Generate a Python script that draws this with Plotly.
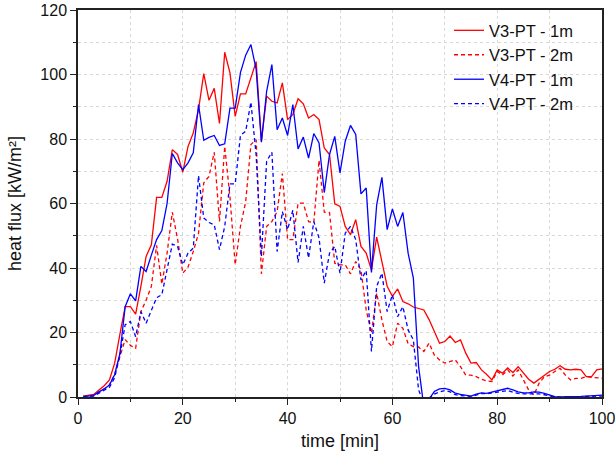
import plotly.graph_objects as go

time_min = list(range(1, 101))

v3_1m = [0.3, 0.5, 0.8, 2.2, 3.5, 5.3, 10.5, 19.5, 28, 28,
         25.7, 34.3, 43.6, 47.2, 61.9, 61.9, 66.9, 76.7, 75.2, 69.7,
         77.7, 81.9, 89.1, 100.3, 92, 95.7, 84.8, 106.9, 100.5, 87,
         94, 94, 99, 104, 79.3, 93.3, 91.7, 91.2, 97.4, 86,
         87.6, 92.5, 90.9, 86.5, 87.6, 86, 77.2, 75.2, 59.9, 59.1,
         52.9, 50.3, 55, 46.7, 44.6, 39.4, 49.6, 41.5, 34.3, 31.2,
         33.5, 29.6, 28.9, 27.9, 27.5, 27, 24, 20.5, 16.7, 17.2,
         18.9, 16.9, 17.7, 13.6, 10.5, 10.7, 8.4, 7, 5.3, 8.4,
         7.4, 9, 7.6, 9.4, 7.4, 5.5, 4.3, 5.5, 6.8, 7.9,
         8.6, 9.7, 8.6, 8.4, 8.6, 8.4, 6.3, 6.3, 8.4, 8.7]

v3_2m = [0.2, 0.3, 0.5, 1.5, 2.5, 3.8, 7, 12.5, 17.8, 16,
         15.1, 26.5, 30, 34.3, 47, 35, 44.6, 57.3, 49, 38.4,
         40.3, 45.1, 50.8, 66.4, 68.4, 75.9, 54.4, 77.7, 62, 41,
         52.9, 60.5, 78.3, 79.8, 38.2, 52.9, 54.4, 57.5, 69.3, 48.8,
         48.8, 60.1, 60.1, 54.4, 54.1, 73.4, 57.3, 57.2, 41.5, 41,
         41, 38.2, 42, 39.4, 27, 19.8, 32.2, 23.9, 17.2, 15.6,
         22.9, 21.3, 16.5, 15.6, 15.5, 14.1, 16.7, 13, 11.5, 10.5,
         11, 11.5, 9.4, 6.8, 6.8, 6.3, 5.5, 5, 4.8, 7.9,
         6.8, 8.4, 6.5, 8.4, 5.3, 2.2, 0.6, 4.3, 6.3, 6.8,
         7.9, 8.9, 6.8, 5.3, 5.8, 5.8, 6.3, 6.1, 6.1, 5.8]

v4_1m = [0.1, 0.2, 0.5, 1.6, 2.5, 3.7, 7, 13.5, 28, 32,
         29.8, 40.5, 38.9, 44, 48.8, 51.6, 60, 75.5, 72.6, 70.5,
         72.6, 75.7, 90.7, 79.6, 80.5, 81.1, 78, 78.5, 89.6, 89.6,
         100.6, 106, 109.3, 101.6, 79, 94.8, 103.1, 82.9, 86.5, 81.1,
         90.7, 76.9, 80.6, 74.1, 81.7, 78.8, 63.4, 75.2, 80.8, 69.5,
         79.3, 84.2, 81.4, 63, 64.8, 38.6, 59.6, 68.1, 51.9, 58.3,
         52.9, 57.2, 44.6, 36.9, 9.4, -3, -0.5, 1.7, 2.5, 2.7,
         2.2, 1.2, 0.8, 0.6, 0.3, 0.9, 1.3, 1.1, 1.5, 2,
         2.4, 2.7, 2.2, 1.6, 1.3, 1.3, 1.6, 1.5, 1.1, 0.5,
         0.1, 0, 0, 0, 0.1, 0.2, 0.3, 0.4, 0.5, 0.6]

v4_2m = [0, 0.1, 0.3, 1.2, 2, 3, 6, 13, 22.4, 23.4,
         18.7, 26.5, 22.9, 27, 30.8, 31.7, 39.4, 47.4, 46.7, 41,
         44.6, 46.2, 68.6, 55.5, 54.1, 53.4, 45.7, 52.9, 66.1, 66.1,
         81.1, 82.4, 91.4, 75, 43.6, 73.1, 75.9, 45.1, 57.5, 51.9,
         57.9, 41.7, 52.9, 43.1, 54.4, 49.3, 35.3, 44.6, 46.7, 38.4,
         50.8, 52.9, 48.8, 36.3, 39.2, 14.1, 34.3, 38.4, 26.5, 31.7,
         24.9, 28, 20.8, 17.7, 2.2, -2, -0.3, 0.9, 1.6, 2,
         1.6, 0.7, 0.4, 0.3, 0.2, 0.6, 1.1, 1, 1.2, 1.5,
         1.7, 2, 1.5, 1.1, 1, 1, 1.1, 1, 0.7, 0.3,
         0, 0, 0, 0, 0, 0.1, 0.2, 0.2, 0.3, 0.3]

series_names = ["V3-PT - 1m", "V3-PT - 2m", "V4-PT - 1m", "V4-PT - 2m"]
series_vals = [v3_1m, v3_2m, v4_1m, v4_2m]
colors = ["#FF0000", "#FF0000", "#0000FF", "#0000FF"]
dashes = ["solid", "4px,3px", "solid", "4px,3px"]

fig = go.Figure()
for name, vals, c, d in zip(series_names, series_vals, colors, dashes):
    fig.add_trace(go.Scatter(x=time_min, y=vals, mode="lines", name=name,
                             line=dict(color=c, width=1.3, dash=d)))

font_family = "Arial, Liberation Sans, sans-serif"
axis_common = dict(
    automargin=False,
    showline=True, linecolor="#222", linewidth=1.5, mirror=True,
    ticks="outside", ticklen=6, tickwidth=1.2, tickcolor="#222",
    ticklabeloverflow="allow",
    showgrid=True, gridcolor="#d8d8d8", griddash="dot", gridwidth=1,
    zeroline=False,
    tickfont=dict(family=font_family, size=16, color="#111"),
    minor=dict(dtick=10, ticks="outside", ticklen=3, tickwidth=1.2, tickcolor="#222",
               showgrid=True, gridcolor="#d8d8d8", griddash="dot", gridwidth=1),
)

fig.update_layout(
    width=615, height=455,
    margin=dict(l=78, r=13, t=10, b=58, autoexpand=False),
    plot_bgcolor="white", paper_bgcolor="white",
    font=dict(family=font_family, color="#111"),
    showlegend=True,
    legend=dict(x=0.708, y=0.992, xanchor="left", yanchor="top",
                bgcolor="rgba(255,255,255,0)", borderwidth=0,
                font=dict(family=font_family, size=16.5, color="#111"),
                tracegroupgap=0, itemwidth=30),
)
fig.update_xaxes(range=[0, 100], dtick=20, tick0=0,
                 title=dict(text="time [min]", font=dict(family=font_family, size=18), standoff=8),
                 **axis_common)
fig.update_yaxes(range=[0, 120], dtick=20, tick0=0,
                 title=dict(text="heat flux [kW/m²]", font=dict(family=font_family, size=18), standoff=14),
                 **axis_common)

fig.write_html("out.html", config={"displayModeBar": False},
               post_script="document.body.style.margin='0';document.body.style.padding='0';")
